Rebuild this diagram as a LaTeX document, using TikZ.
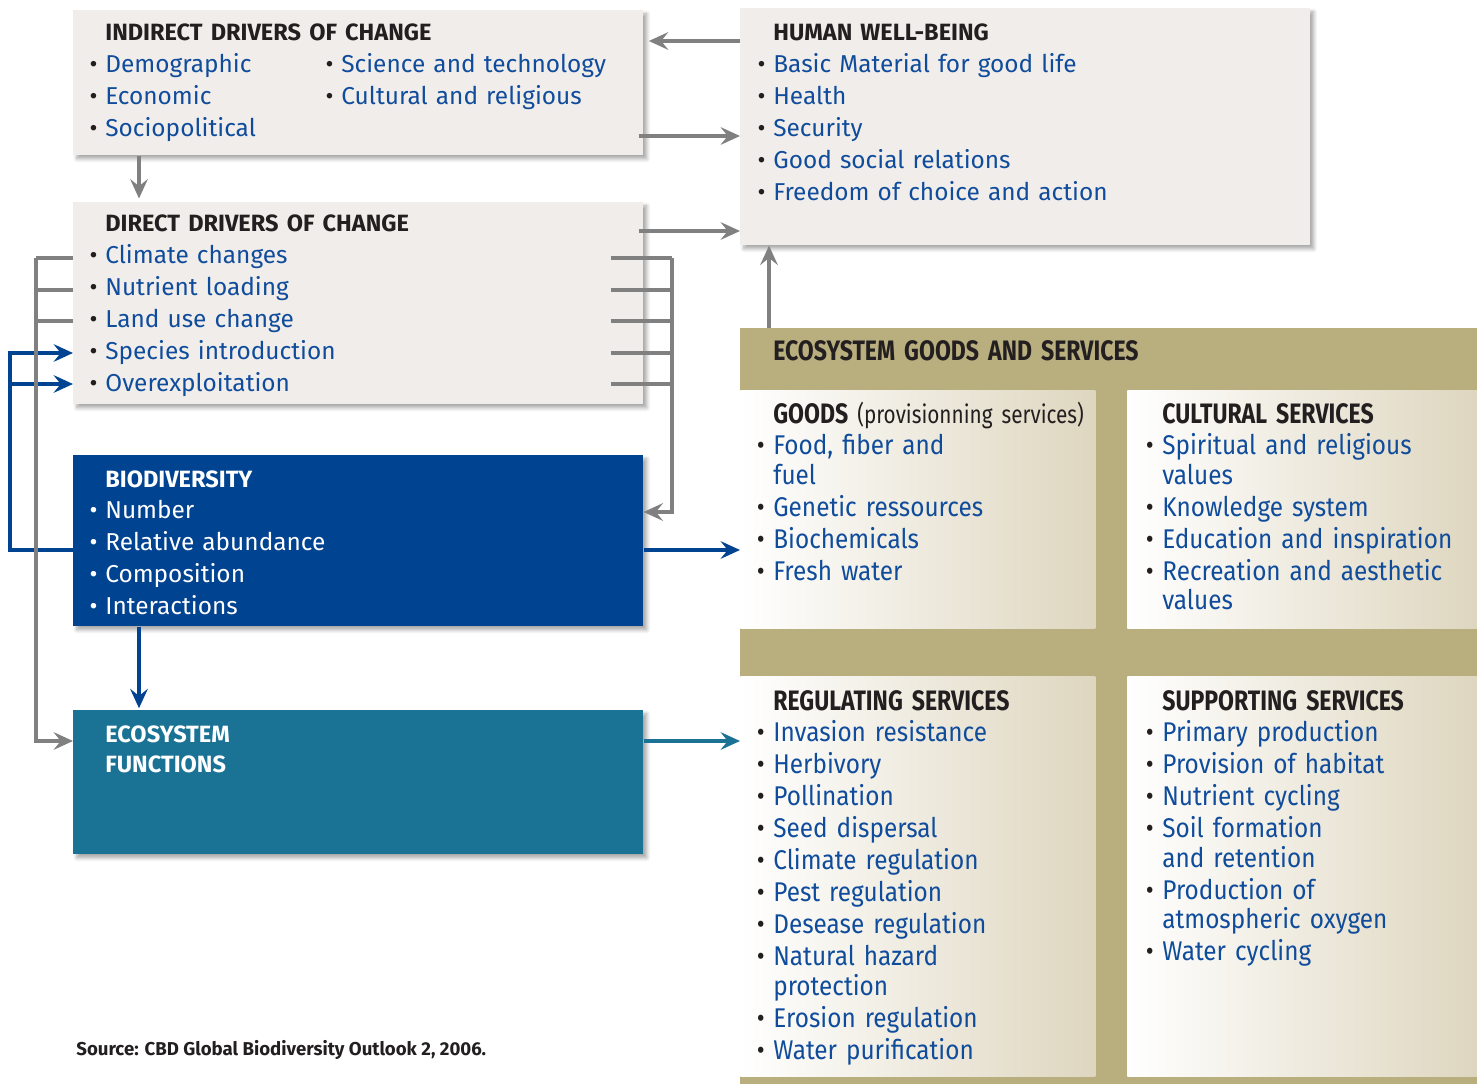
\documentclass[tikz,border=0pt]{standalone}
\usepackage{fontspec}
\setmainfont{Fira Sans}
\newfontfamily\condfont[FakeStretch=0.82]{Fira Sans}
\newfontfamily\itemfont[FakeStretch=0.9]{Fira Sans}
\usetikzlibrary{arrows.meta,shadows.blur}

\definecolor{boxgray}{RGB}{241,237,234}
\definecolor{txtblue}{RGB}{16,76,156}
\definecolor{bioblue}{RGB}{0,67,145}
\definecolor{ecoteal}{RGB}{26,115,149}
\definecolor{egsolive}{RGB}{184,174,126}
\definecolor{panelbeige}{RGB}{222,214,191}
\definecolor{arrowgray}{RGB}{128,128,128}
\definecolor{headblack}{RGB}{35,31,32}

\newcommand{\bul}{\leavevmode\llap{\textcolor{headblack}{\textbullet}\hspace{0.32em}}}
\newcommand{\wbul}{\leavevmode\llap{\textbullet\hspace{0.32em}}}
\newcommand{\head}[1]{{\fontsize{13.4}{18.14}\selectfont\color{headblack}\bfseries #1}}
\newcommand{\phead}[1]{{\condfont\fontsize{16}{16.8}\selectfont\color{headblack}\bfseries #1}}

\tikzset{
  lbox/.style={fill=boxgray, anchor=north west, inner sep=0pt,
    blur shadow={shadow xshift=2pt, shadow yshift=-2pt, shadow blur steps=6, shadow opacity=35}},
  olivebox/.style={fill=egsolive, anchor=north west, inner sep=0pt},
  panel/.style={left color=white, right color=panelbeige, anchor=north west, inner sep=0pt},
  ltext/.style={anchor=base west, inner sep=0pt, align=left, text=txtblue,
    font=\fontsize{13.9}{18.14}\selectfont},
  ptext/.style={anchor=base west, inner sep=0pt, align=left, text width=6.6cm, text=txtblue,
    font=\itemfont\fontsize{15.4}{16.8}\selectfont},
  tip/.style={-{Stealth[length=11pt, width=10pt, inset=4pt]}},
  gline/.style={draw=arrowgray, line width=2.2pt},
  garrow/.style={gline, tip},
  barrow/.style={draw=bioblue, line width=1.8pt, tip},
  tarrow/.style={draw=ecoteal, line width=1.8pt, tip}
}

\begin{document}
\begin{tikzpicture}[x=0.02cm, y=-0.02cm]
    \useasboundingbox (0,0) rectangle (1477,1084);

    % left column and human well-being
    \node[lbox, minimum width=11.4cm, minimum height=2.9cm] (ind) at (73,10) {};
    \node[lbox, minimum width=11.4cm, minimum height=4.74cm] (hwb) at (740,8) {};
    \node[lbox, minimum width=11.4cm, minimum height=4.04cm] (dir) at (73,202) {};
    \node[lbox, fill=bioblue, minimum width=11.4cm, minimum height=3.42cm] (bio) at (73,455) {};
    \node[lbox, fill=ecoteal, minimum width=11.4cm, minimum height=2.88cm] (eco) at (73,710) {};

    % ecosystem goods and services
    \node[olivebox, minimum width=14.74cm, minimum height=15.12cm] (egs) at (740,328) {};
    \node[panel, minimum width=7.1cm, minimum height=4.76cm] (goods) at (740,390) {};
    \node[panel, minimum width=7cm, minimum height=4.76cm] (cult) at (1127,390) {};
    \node[panel, minimum width=7.1cm, minimum height=8cm] (reg) at (740,676) {};
    \node[panel, minimum width=7cm, minimum height=8cm] (supp) at (1127,676) {};

    \node[ltext, text width=10.5cm] (indtxt) at (105,41) {\head{INDIRECT DRIVERS OF CHANGE}\\
        \bul Demographic\\ \bul Economic\\ \bul Sociopolitical};
    \node[ltext, text width=6cm] (indtxt2) at (341,73) {\bul Science and technology\\ \bul Cultural and religious};
    \node[ltext, text width=10.5cm] (hwbtxt) at (773,41) {\head{HUMAN WELL-BEING}\\
        \bul Basic Material for good life\\ \bul Health\\ \bul Security\\
        \bul Good social relations\\ \bul Freedom of choice and action};
    \node[ltext, text width=10.5cm] (dirtxt) at (105,232) {\head{DIRECT DRIVERS OF CHANGE}\\
        \bul Climate changes\\ \bul Nutrient loading\\ \bul Land use change\\
        \bul Species introduction\\ \bul Overexploitation};
    \node[ltext, text width=10.5cm, text=white] (biotxt) at (105,487) {{\fontsize{13.4}{18.14}\selectfont\bfseries BIODIVERSITY}\\
        \wbul Number\\ \wbul Relative abundance\\ \wbul Composition\\ \wbul Interactions};
    \node[ltext, text width=10.5cm, text=white, font=\fontsize{13.4}{17.6}\selectfont\bfseries] (ecotxt) at (105,742) {ECOSYSTEM\\ FUNCTIONS};

    \node[ptext, text width=13cm] (egstxt) at (773,360) {\phead{ECOSYSTEM GOODS AND SERVICES}};
    \node[ptext] (goodstxt) at (773,423) {\phead{GOODS} {\condfont\fontsize{14.4}{16.8}\selectfont\color{headblack}(provisionning services)}\\[1.4pt]
        \bul Food, fiber and\\ fuel\\[1.4pt] \bul Genetic ressources\\[1.4pt]
        \bul Biochemicals\\[1.4pt] \bul Fresh water};
    \node[ptext] (culttxt) at (1162,423) {\phead{CULTURAL SERVICES}\\[1.4pt]
        \bul Spiritual and religious\\ values\\[1.4pt] \bul Knowledge system\\[1.4pt]
        \bul Education and inspiration\\[1.4pt] \bul Recreation and aesthetic\\ values};
    \node[ptext] (regtxt) at (773,710) {\phead{REGULATING SERVICES}\\[1.4pt]
        \bul Invasion resistance\\[1.4pt] \bul Herbivory\\[1.4pt] \bul Pollination\\[1.4pt]
        \bul Seed dispersal\\[1.4pt] \bul Climate regulation\\[1.4pt] \bul Pest regulation\\[1.4pt]
        \bul Desease regulation\\[1.4pt] \bul Natural hazard\\ protection\\[1.4pt]
        \bul Erosion regulation\\[1.4pt] \bul Water purification};
    \node[ptext] (supptxt) at (1162,710) {\phead{SUPPORTING SERVICES}\\[1.4pt]
        \bul Primary production\\[1.4pt] \bul Provision of habitat\\[1.4pt]
        \bul Nutrient cycling\\[1.4pt] \bul Soil formation\\ and retention\\[1.4pt]
        \bul Production of\\ atmospheric oxygen\\[1.4pt] \bul Water cycling};

    \node[anchor=base west, inner sep=0pt, text=headblack, font=\fontsize{10.6}{12}\selectfont\bfseries]
        (src) at (76,1055) {Source: CBD Global Biodiversity Outlook 2, 2006.};

    % connectors
    \coordinate (busR) at ([xshift=0.56cm]dir.east);
    \coordinate (combR) at ([xshift=-0.66cm]dir.east);
    \coordinate (busL) at ([xshift=-0.74cm]dir.west);
    \coordinate (busB) at ([xshift=-1.26cm]bio.west);
    \coordinate (colA) at (139,0);
    \coordinate (colB) at (769,0);

    \draw[garrow, shorten >=3pt] (hwb.west |- 0,41) -- (ind.east |- 0,41);
    \draw[garrow] ([xshift=-0.1cm]ind.east |- 0,136) -- (hwb.west |- 0,136);
    \draw[garrow, shorten >=2pt] (colA |- ind.south) -- (colA |- dir.north);
    \draw[garrow] ([xshift=-0.1cm]dir.east |- 0,231) -- (hwb.west |- 0,231);
    \draw[garrow] (colB |- egs.north) -- (colB |- hwb.south);

    \draw[barrow] (bio.west |- 0,550) -- (busB |- 0,550) -- (busB |- 0,353) -- (dir.west |- 0,353);
    \draw[barrow] (busB |- 0,384) -- (dir.west |- 0,384);
    \draw[barrow] (bio.east |- 0,550) -- (goods.west |- 0,550);
    \draw[barrow, shorten >=1pt] (colA |- bio.south) -- (colA |- eco.north);
    \draw[tarrow] (eco.east |- 0,741) -- (reg.west |- 0,741);

    \foreach \yy in {258,290,321,353,384}
        \draw[gline] (combR |- 0,\yy) -- (busR |- 0,\yy);
    \draw[garrow] (busR |- 0,258) -- (busR |- 0,512) -- (bio.east |- 0,512);
    \foreach \yy in {258,290,321}
        \draw[gline] (dir.west |- 0,\yy) -- (busL |- 0,\yy);
    \draw[garrow] (busL |- 0,258) -- (busL |- 0,741) -- (eco.west |- 0,741);
\end{tikzpicture}
\end{document}
